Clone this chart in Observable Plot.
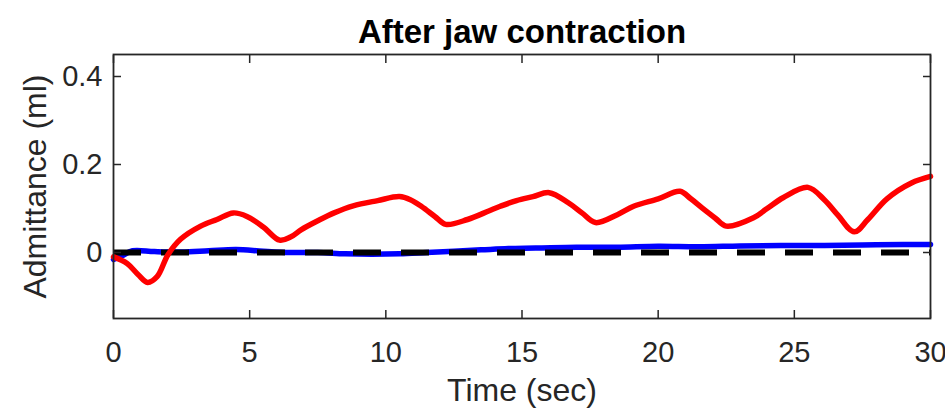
<!DOCTYPE html>
<html>
<head>
<meta charset="utf-8">
<script src="https://cdn.jsdelivr.net/npm/d3@7"></script>
<script src="https://cdn.jsdelivr.net/npm/@observablehq/plot@0.6"></script>
<style>
  html, body { margin: 0; padding: 0; background: #ffffff; }
</style>
</head>
<body>
<div id="chart"></div>
<script>
const title = "After jaw contraction";
const xLabel = "Time (sec)";
const yLabel = "Admittance (ml)";
const xTicks = [0, 5, 10, 15, 20, 25, 30];
const yTicks = [0, 0.2, 0.4];

// Red trace (time in s, admittance in ml)
const redT = [0, 0.5, 0.9, 1.25, 1.6, 2.0, 2.46, 3.2, 3.8, 4.4, 4.9, 5.5, 6.1, 6.5, 6.9, 7.5, 8.1, 8.8, 9.7, 10.5, 10.9, 11.3, 11.8, 12.2, 13.0, 13.8, 14.2, 14.8, 15.4, 16.0, 16.7, 17.2, 17.7, 18.5, 19.1, 20.0, 20.8, 21.2, 21.6, 22.1, 22.5, 23.5, 24.0, 24.6, 25.5, 26.1, 26.6, 27.2, 27.7, 28.4, 29.3, 30];
const redV = [-0.01, -0.025, -0.05, -0.068, -0.055, -0.005, 0.03, 0.06, 0.075, 0.09, 0.082, 0.058, 0.028, 0.035, 0.052, 0.072, 0.09, 0.106, 0.118, 0.127, 0.12, 0.105, 0.082, 0.064, 0.075, 0.095, 0.105, 0.118, 0.127, 0.136, 0.113, 0.09, 0.068, 0.086, 0.105, 0.122, 0.139, 0.122, 0.102, 0.078, 0.06, 0.079, 0.1, 0.125, 0.148, 0.12, 0.085, 0.047, 0.075, 0.122, 0.158, 0.173];

// Blue trace
const blueT = [0, 0.3, 0.7, 1.5, 2.5, 3.5, 4.5, 5.5, 6.5, 7.5, 8.5, 9.5, 10.5, 11.5, 12.5, 13.5, 14.5, 15.5, 17, 18.5, 20, 21.5, 23, 24.5, 26, 27.5, 29, 30];
const blueV = [-0.016, -0.008, 0.004, 0.002, 0.001, 0.004, 0.007, 0.003, 0.0, 0.0, -0.003, -0.004, -0.003, 0.0, 0.003, 0.006, 0.009, 0.01, 0.012, 0.012, 0.014, 0.013, 0.015, 0.016, 0.016, 0.017, 0.018, 0.018];

const red = redT.map((t, i) => ({t, v: redV[i]}));
const blue = blueT.map((t, i) => ({t, v: blueV[i]}));

const axisColor = "#262626";
const font = "'Liberation Sans', Arial, Helvetica, sans-serif";

const chart = Plot.plot({
  width: 945,
  height: 411,
  marginLeft: 113,
  marginRight: 15,
  marginTop: 54,
  marginBottom: 93,
  x: {domain: [0, 30]},
  y: {domain: [-0.15, 0.45]},
  style: {fontFamily: font, background: "#ffffff", color: axisColor, overflow: "visible"},
  marks: [
    Plot.line(blue, {x: "t", y: "v", stroke: "#0000ff", strokeWidth: 5.5, curve: "catmull-rom"}),
    Plot.ruleY([0], {stroke: "#000000", strokeWidth: 6, strokeDasharray: "28,20"}),
    Plot.line(red, {x: "t", y: "v", stroke: "#ff0000", strokeWidth: 5.5, curve: "catmull-rom"}),
    Plot.frame({stroke: axisColor, strokeWidth: 1.8}),
    // inward ticks
    Plot.axisX({ticks: xTicks, anchor: "bottom", tickSize: 8, dy: -8, tickFormat: () => "", label: null, stroke: axisColor, strokeWidth: 1.5}),
    Plot.axisX({ticks: xTicks, anchor: "top", tickSize: 8, dy: 8, tickFormat: () => "", label: null, stroke: axisColor, strokeWidth: 1.5}),
    Plot.axisY({ticks: yTicks, anchor: "left", tickSize: 8, dx: 8, tickFormat: () => "", label: null, stroke: axisColor, strokeWidth: 1.5}),
    Plot.axisY({ticks: yTicks, anchor: "right", tickSize: 8, dx: -8, tickFormat: () => "", label: null, stroke: axisColor, strokeWidth: 1.5}),
    // tick labels
    Plot.axisX({ticks: xTicks, anchor: "bottom", tickSize: 0, tickPadding: 23, label: null, fontSize: 29, fill: axisColor, tickFormat: d => String(d)}),
    Plot.axisY({ticks: yTicks, anchor: "left", tickSize: 0, tickPadding: 11, label: null, fontSize: 29, fill: axisColor, tickFormat: d => String(d)}),
    // labels and title
    Plot.text([xLabel], {text: d => d, frameAnchor: "bottom", dy: 82, lineAnchor: "bottom", textAnchor: "middle", fontSize: 32, fill: axisColor}),
    Plot.text([yLabel], {text: d => d, frameAnchor: "left", dx: -78, rotate: -90, lineAnchor: "middle", textAnchor: "middle", fontSize: 32, fill: axisColor}),
    Plot.text([title], {text: d => d, frameAnchor: "top", dy: -12, lineAnchor: "bottom", textAnchor: "middle", fontSize: 33, fontWeight: "bold", fill: "#000000"})
  ]
});
document.getElementById("chart").appendChild(chart);
</script>
</body>
</html>
